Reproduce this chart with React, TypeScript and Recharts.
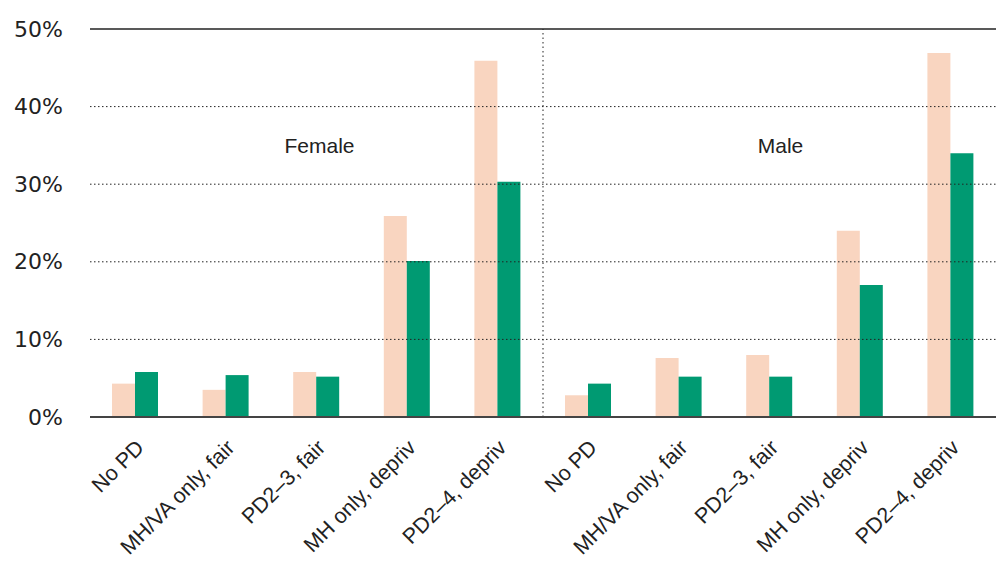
import React from 'react';
import {
  BarChart,
  Bar,
  XAxis,
  YAxis,
  ReferenceLine,
  ReferenceDot,
} from 'recharts';

// categories: 5 per group, female first then male
const groups = ['Female', 'Male'];
const categories = ['No PD', 'MH/VA only, fair', 'PD2\u20133, fair', 'MH only, depriv', 'PD2\u20134, depriv'];

// values in % (female 5, then male 5)
const peachValues = [4.3, 3.5, 5.8, 25.9, 45.9, 2.8, 7.6, 8.0, 24.0, 46.9];
const greenValues = [5.8, 5.4, 5.2, 20.1, 30.3, 4.3, 5.2, 5.2, 17.0, 34.0];

const yTicks = [0, 10, 20, 30, 40, 50];
const gridTicks = [10, 20, 30, 40];

const data = groups.flatMap((g, gi) =>
  categories.map((c, ci) => ({
    key: `${g}-${c}`,
    label: c,
    peach: peachValues[gi * categories.length + ci],
    green: greenValues[gi * categories.length + ci],
  }))
);

const PEACH = '#f9d5c0';
const GREEN = '#009a72';
const INK = '#222';

function CategoryTick({ x, y, payload }: any) {
  const label = String(payload.value).replace(/^[^-]+-/, '');
  const ax = x + 10;
  const ay = y + 24;
  return (
    <text
      x={ax}
      y={ay}
      transform={`rotate(-45, ${ax}, ${ay})`}
      textAnchor="end"
      fontFamily="'Liberation Sans', Arial, sans-serif"
      fontSize={21.5}
      fill={INK}
    >
      {label}
    </text>
  );
}

function PercentTick({ x, y, payload }: any) {
  return (
    <text
      x={x - 19}
      y={y}
      textAnchor="end"
      dominantBaseline="central"
      fontFamily="'DejaVu Sans', sans-serif"
      fontSize={22}
      fill={INK}
    >
      {`${payload.value}%`}
    </text>
  );
}

function GroupLabel({ viewBox, value, dx }: any) {
  const cx = viewBox.x + (viewBox.width || 0) / 2;
  const cy = viewBox.y + (viewBox.height || 0) / 2;
  return (
    <text
      x={cx + dx}
      y={cy}
      textAnchor="middle"
      fontFamily="'Liberation Sans', Arial, sans-serif"
      fontSize={21}
      fill={INK}
    >
      {value}
    </text>
  );
}

export default function App() {
  return (
    <div style={{ position: 'absolute', left: 0, top: 0, width: 1003, height: 563, background: '#fff' }}>
      <BarChart
        width={1003}
        height={563}
        data={data}
        margin={{ top: 29, right: 7, left: 0, bottom: 0 }}
        barGap={0}
      >
        <XAxis
          dataKey="key"
          interval={0}
          height={146}
          tickLine={false}
          axisLine={{ stroke: '#444', strokeWidth: 2 }}
          tick={<CategoryTick />}
        />
        <YAxis
          width={90}
          domain={[0, 50]}
          ticks={yTicks}
          axisLine={false}
          tickLine={false}
          tick={<PercentTick />}
        />
        {gridTicks.map((t) => (
          <ReferenceLine
            key={t}
            y={t}
            stroke={INK}
            strokeWidth={1}
            strokeDasharray="1.5 2.5"
          />
        ))}
        <ReferenceLine y={50} stroke={INK} strokeWidth={1.5} />
        <ReferenceLine
          x={`${groups[0]}-${categories[4]}`}
          position="end"
          stroke={INK}
          strokeWidth={1}
          strokeDasharray="1.5 3"
        />
        <Bar dataKey="peach" fill={PEACH} barSize={23} isAnimationActive={false} />
        <Bar dataKey="green" fill={GREEN} barSize={23} isAnimationActive={false} />
        <ReferenceDot
          x={`${groups[0]}-${categories[2]}`}
          y={34}
          r={0}
          stroke="none"
          label={<GroupLabel value={groups[0]} dx={3} />}
        />
        <ReferenceDot
          x={`${groups[1]}-${categories[2]}`}
          y={34}
          r={0}
          stroke="none"
          label={<GroupLabel value={groups[1]} dx={11} />}
        />
      </BarChart>
    </div>
  );
}
